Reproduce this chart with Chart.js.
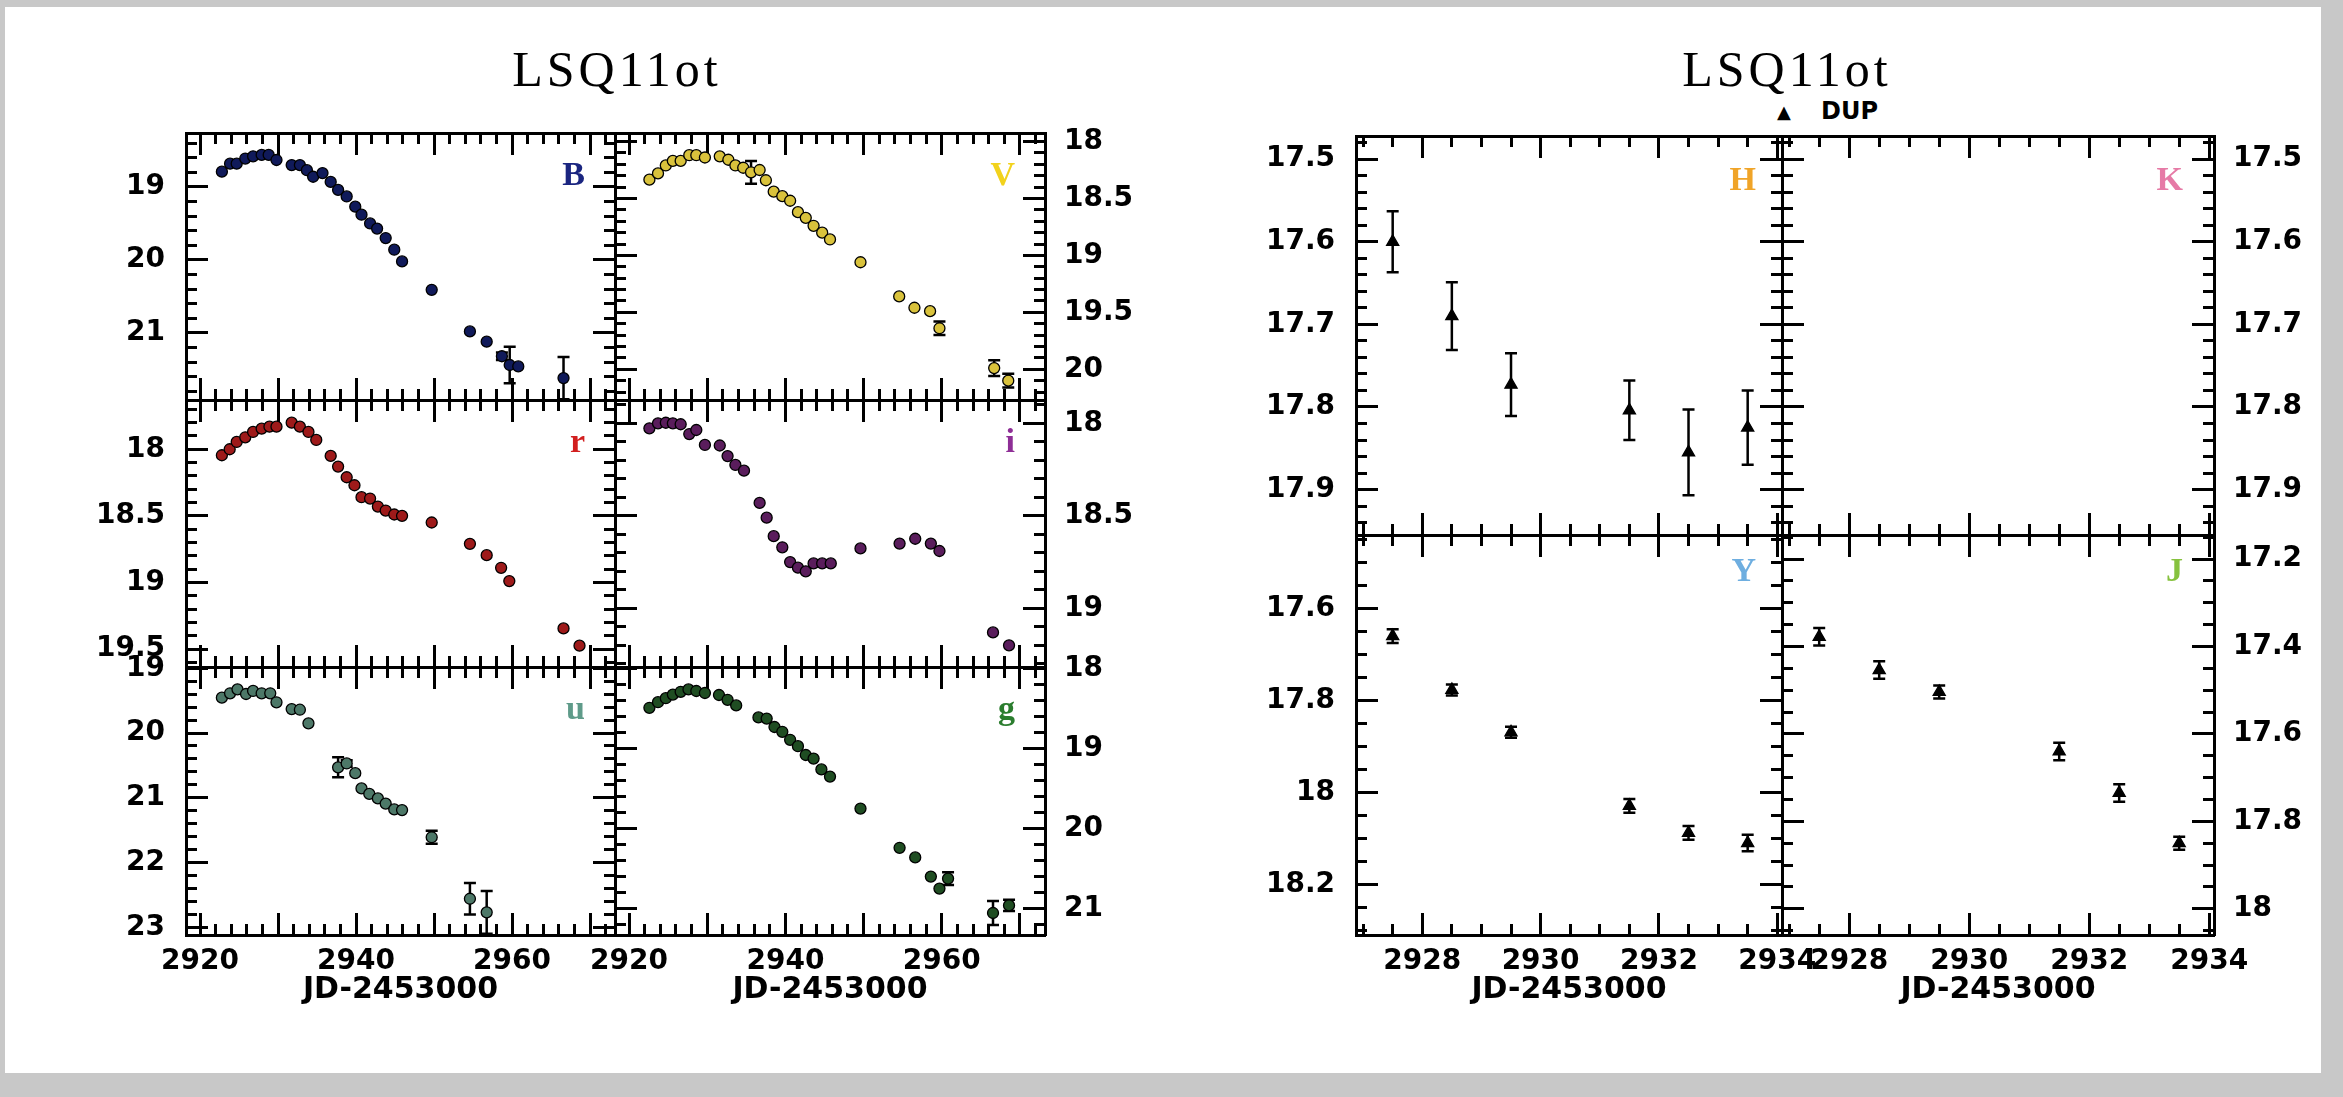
<!DOCTYPE html>
<html>
<head>
<meta charset="utf-8">
<title>LSQ11ot light curves</title>
<script src="https://cdn.jsdelivr.net/npm/chart.js"></script>
<style>
  html, body { margin: 0; padding: 0; background: #c8c8c8; width: 2343px; height: 1097px; overflow: hidden; }
  #page { position: absolute; left: 5px; top: 7px; width: 2316px; height: 1066px; background: #fff; }
  canvas { position: absolute; }
  .title { position: absolute; top: 44px; font: 50px/50px "Liberation Serif", serif; letter-spacing: 4px; transform: translateX(-50%); white-space: nowrap; color: #000; }
  .dup { position: absolute; font: bold 24px/24px "DejaVu Sans", sans-serif; color: #000; }
  .tri { position: absolute; font: 18px/18px "DejaVu Sans", sans-serif; color: #000; }
</style>
</head>
<body>
<div id="page"></div>
<div class="title" style="left:617px">LSQ11ot</div>
<div class="title" style="left:1787px">LSQ11ot</div>
<div class="tri" style="left:1777px; top:103px">▲</div>
<div class="dup" style="left:1821px; top:99px">DUP</div>
<script>
// ---- optical light curves (JD-2453000, mag) ----
const B_DAY = [2922.8, 2923.85, 2924.7, 2925.8, 2926.8, 2927.9, 2928.8, 2929.8, 2931.75, 2932.8, 2933.7, 2934.5, 2935.7, 2936.75, 2937.7, 2938.8, 2939.9, 2940.7, 2941.8, 2942.7, 2943.8, 2944.9, 2945.9, 2949.7, 2954.6, 2956.75, 2958.7, 2959.7, 2960.8, 2966.6];
const B_MAG = [18.79, 18.68, 18.68, 18.61, 18.58, 18.56, 18.56, 18.63, 18.70, 18.70, 18.77, 18.86, 18.81, 18.93, 19.04, 19.13, 19.27, 19.38, 19.50, 19.57, 19.70, 19.86, 20.02, 20.41, 20.98, 21.12, 21.32, 21.44, 21.46, 21.62];
const B_ERR = [0, 0, 0, 0, 0, 0, 0, 0, 0, 0, 0, 0, 0, 0, 0, 0, 0, 0, 0, 0, 0, 0, 0, 0, 0, 0, 0.05, 0.25, 0, 0.29];

const V_DAY = [2922.6, 2923.7, 2924.7, 2925.6, 2926.6, 2927.7, 2928.6, 2929.7, 2931.6, 2932.7, 2933.6, 2934.6, 2935.6, 2936.7, 2937.5, 2938.5, 2939.6, 2940.6, 2941.6, 2942.6, 2943.6, 2944.7, 2945.7, 2949.6, 2954.55, 2956.5, 2958.5, 2959.7, 2966.7, 2968.5];
const V_MAG = [18.335, 18.28, 18.21, 18.17, 18.17, 18.12, 18.12, 18.14, 18.13, 18.16, 18.21, 18.23, 18.27, 18.25, 18.34, 18.44, 18.48, 18.52, 18.62, 18.67, 18.74, 18.80, 18.86, 19.06, 19.36, 19.46, 19.49, 19.64, 19.99, 20.10];
const V_ERR = [0, 0, 0, 0, 0, 0, 0, 0, 0, 0, 0, 0, 0.1, 0, 0, 0, 0, 0, 0, 0, 0, 0, 0, 0, 0, 0, 0, 0.06, 0.07, 0.06];

const R_DAY = [2922.8, 2923.8, 2924.7, 2925.8, 2926.8, 2927.9, 2928.9, 2929.8, 2931.75, 2932.8, 2933.9, 2934.9, 2936.75, 2937.7, 2938.8, 2939.8, 2940.7, 2941.8, 2942.8, 2943.8, 2944.9, 2945.9, 2949.7, 2954.6, 2956.75, 2958.6, 2959.65, 2966.6, 2968.65];
const R_MAG = [18.045, 18.0, 17.945, 17.91, 17.87, 17.845, 17.83, 17.83, 17.80, 17.83, 17.87, 17.93, 18.05, 18.13, 18.21, 18.27, 18.36, 18.37, 18.43, 18.46, 18.49, 18.50, 18.55, 18.71, 18.795, 18.89, 18.99, 19.345, 19.475];

const I_DAY = [2922.6, 2923.7, 2924.7, 2925.6, 2926.6, 2927.7, 2928.6, 2929.7, 2931.6, 2932.6, 2933.6, 2934.7, 2936.7, 2937.6, 2938.5, 2939.6, 2940.6, 2941.6, 2942.6, 2943.6, 2944.7, 2945.8, 2949.6, 2954.6, 2956.6, 2958.6, 2959.7, 2966.55, 2968.6];
const I_MAG = [18.027, 18.0, 17.997, 18.0, 18.005, 18.058, 18.036, 18.117, 18.12, 18.177, 18.225, 18.256, 18.43, 18.51, 18.61, 18.67, 18.75, 18.78, 18.80, 18.757, 18.757, 18.757, 18.676, 18.65, 18.624, 18.65, 18.69, 19.13, 19.20];

const U_DAY = [2922.8, 2923.85, 2924.8, 2925.9, 2926.8, 2927.9, 2929.0, 2929.8, 2931.75, 2932.8, 2933.9, 2937.7, 2938.8, 2939.9, 2940.7, 2941.7, 2942.8, 2943.8, 2944.9, 2945.9, 2949.7, 2954.6, 2956.75];
const U_MAG = [19.454, 19.386, 19.325, 19.397, 19.35, 19.386, 19.386, 19.525, 19.63, 19.64, 19.85, 20.53, 20.47, 20.62, 20.855, 20.94, 21.01, 21.09, 21.18, 21.19, 21.61, 22.56, 22.77];
const U_ERR = [0, 0, 0, 0, 0, 0, 0, 0, 0, 0, 0, 0.155, 0.05, 0, 0, 0, 0, 0, 0, 0, 0.1, 0.245, 0.33];

const G_DAY = [2922.6, 2923.7, 2924.7, 2925.6, 2926.6, 2927.6, 2928.6, 2929.7, 2931.5, 2932.6, 2933.7, 2936.55, 2937.6, 2938.6, 2939.6, 2940.6, 2941.6, 2942.6, 2943.6, 2944.6, 2945.7, 2949.6, 2954.6, 2956.6, 2958.6, 2959.7, 2960.8, 2966.55, 2968.6];
const G_MAG = [18.49, 18.42, 18.37, 18.325, 18.29, 18.26, 18.28, 18.305, 18.33, 18.39, 18.46, 18.61, 18.625, 18.73, 18.79, 18.89, 18.97, 19.08, 19.125, 19.26, 19.35, 19.75, 20.24, 20.36, 20.60, 20.75, 20.625, 21.055, 20.96];
const G_ERR = [0, 0, 0, 0, 0, 0, 0, 0, 0, 0, 0, 0, 0, 0, 0, 0, 0, 0, 0, 0, 0, 0, 0, 0, 0, 0, 0.08, 0.15, 0.07];

// ---- near-IR (DUP) ----
const NIR_DAY = [2927.5, 2928.5, 2929.5, 2931.5, 2932.5, 2933.5];
const H_MAG = [17.60, 17.69, 17.773, 17.804, 17.855, 17.825];
const H_ERR = [0.037, 0.041, 0.038, 0.036, 0.052, 0.045];
const Y_MAG = [17.66, 17.777, 17.869, 18.029, 18.088, 18.11];
const Y_ERR = [0.015, 0.012, 0.012, 0.015, 0.015, 0.018];
const J_MAG = [17.378, 17.454, 17.504, 17.64, 17.735, 17.85];
const J_ERR = [0.02, 0.02, 0.015, 0.02, 0.02, 0.015];

// ---- tick labels ----
const OPT_X_TICKS = [2920, 2930, 2940, 2950, 2960, 2970];
const OPT_X_LABELS = [2920, 2940, 2960];
const NIR_X_TICKS = [2928, 2930, 2932, 2934];
const B_TICKS = [19, 20, 21];
const V_TICKS = [18, 18.5, 19, 19.5, 20];
const R_TICKS = [18, 18.5, 19, 19.5];
const I_TICKS = [18, 18.5, 19];
const U_TICKS = [19, 20, 21, 22, 23];
const G_TICKS = [18, 19, 20, 21];
const HK_TICKS = [17.5, 17.6, 17.7, 17.8, 17.9];
const Y_TICKS = [17.6, 17.8, 18, 18.2];
const J_TICKS = [17.2, 17.4, 17.6, 17.8, 18];

const FONT = '"DejaVu Sans", sans-serif';
const TICK_MAJ = 22, TICK_MIN = 11;
// canvas margins around each box (labels live there); top must exceed label padding
const PAD = { l: 100, r: 110, t: 80, b: 90 };
const CAP = 6;

function minorTicks(min, max, step) {
  const out = [];
  for (let k = Math.ceil(min / step - 1e-9); k * step <= max + 1e-9; k++) out.push(+(k * step).toFixed(6));
  return out;
}

// error bars drawn through the chart's own scales
const errorBars = {
  id: 'errorBars',
  beforeDatasetsDraw(chart) {
    const { ctx, chartArea, scales } = chart;
    ctx.save();
    ctx.beginPath();
    ctx.rect(chartArea.left, chartArea.top, chartArea.width, chartArea.height);
    ctx.clip();
    ctx.strokeStyle = '#000';
    ctx.lineWidth = 2.5;
    chart.data.datasets.forEach(ds => {
      if (!ds.errors) return;
      ds.data.forEach((p, i) => {
        const e = ds.errors[i];
        if (!e) return;
        const x = scales.x.getPixelForValue(p.x);
        const y1 = scales.y.getPixelForValue(p.y - e);
        const y2 = scales.y.getPixelForValue(p.y + e);
        ctx.beginPath();
        ctx.moveTo(x, y1); ctx.lineTo(x, y2);
        ctx.moveTo(x - CAP, y1); ctx.lineTo(x + CAP, y1);
        ctx.moveTo(x - CAP, y2); ctx.lineTo(x + CAP, y2);
        ctx.stroke();
      });
    });
    ctx.restore();
  }
};

// filter name in the upper right corner of each box
const bandLabel = {
  id: 'bandLabel',
  afterDraw(chart, args, opts) {
    if (!opts.text) return;
    const { ctx, chartArea } = chart;
    ctx.save();
    ctx.font = 'bold 34px "Liberation Serif", serif';
    ctx.fillStyle = opts.color;
    ctx.textAlign = 'right';
    ctx.textBaseline = 'alphabetic';
    ctx.fillText(opts.text, chartArea.right - opts.dx, chartArea.top + opts.dy);
    ctx.restore();
  }
};

Chart.register(errorBars, bandLabel);

function axis(pos, major, min, max, values, labels, size, extra) {
  const horiz = pos === 'top' || pos === 'bottom';
  const pad = { bottom: 32, left: 43, right: 41, top: 0 }[pos];
  return Object.assign({
    type: 'linear',
    axis: horiz ? 'x' : 'y',
    position: pos,
    weight: major ? 1 : 0,
    min, max,
    reverse: !horiz,
    afterBuildTicks: s => { s.ticks = values.map(v => ({ value: v })); },
    afterFit: s => { if (horiz) s.height = size; else s.width = size; },
    grid: { display: true, drawOnChartArea: false, drawTicks: true, tickLength: -(major ? TICK_MAJ : TICK_MIN), tickWidth: 3, tickColor: '#000' },
    border: { display: true, color: '#000', width: 3 },
    ticks: {
      display: !!labels,
      autoSkip: false, maxRotation: 0, minRotation: 0,
      color: '#000',
      font: { family: FONT, size: 28, weight: 'bold' },
      padding: pad,
      callback: v => (labels && labels.includes(v)) ? String(v) : ''
    }
  }, extra || {});
}

function panel(o) {
  const W = o.right - o.left, H = o.bottom - o.top;
  const c = document.createElement('canvas');
  c.width = W + PAD.l + PAD.r;
  c.height = H + PAD.t + PAD.b;
  c.style.left = (o.left - PAD.l) + 'px';
  c.style.top = (o.top - PAD.t) + 'px';
  document.body.appendChild(c);

  const xMinor = minorTicks(o.xMin, o.xMax, o.xStep);
  const yMinor = minorTicks(o.yMin, o.yMax, o.yStep);
  const xTitle = o.xTitle ? { title: { display: true, text: 'JD-2453000', color: '#000', font: { family: FONT, size: 30, weight: 'bold' }, padding: { top: 0, bottom: 17 } } } : null;

  const datasets = o.series ? [{
    data: o.series.day.map((d, i) => ({ x: d, y: o.series.mag[i] })),
    errors: o.series.err,
    backgroundColor: o.series.color,
    borderColor: '#000',
    borderWidth: 1.3,
    pointStyle: o.series.style || 'circle',
    pointRadius: o.series.radius || 5.5,
    showLine: false,
    xAxisID: 'x', yAxisID: 'y'
  }] : [];

  new Chart(c, {
    type: 'scatter',
    data: { datasets },
    options: {
      responsive: false,
      animation: false,
      devicePixelRatio: 1,
      layout: { padding: 0 },
      events: [],
      plugins: {
        legend: { display: false },
        tooltip: { enabled: false },
        bandLabel: { text: o.band, color: o.bandColor, dx: o.dx || 30, dy: o.dy || 52 }
      },
      scales: {
        xm: axis('bottom', false, o.xMin, o.xMax, xMinor, null, 0),
        x: axis('bottom', true, o.xMin, o.xMax, o.xTicks, o.xLabels, PAD.b, xTitle),
        xtm: axis('top', false, o.xMin, o.xMax, xMinor, null, 0),
        xt: axis('top', true, o.xMin, o.xMax, o.xTicks, null, PAD.t),
        ym: axis('left', false, o.yMin, o.yMax, yMinor, null, 0),
        y: axis('left', true, o.yMin, o.yMax, o.yTicks, o.ySide === 'left' ? o.yTicks : null, PAD.l),
        yrm: axis('right', false, o.yMin, o.yMax, yMinor, null, 0),
        yr: axis('right', true, o.yMin, o.yMax, o.yTicks, o.ySide === 'right' ? o.yTicks : null, PAD.r)
      }
    }
  });
}

// ---- optical grid ----
const OX = [186, 615, 1045];
const OY = [133, 400, 667, 935];
const opt = { xMin: 2918.2, xMax: 2973.2, xStep: 2, xTicks: OPT_X_TICKS };

panel(Object.assign({}, opt, { left: OX[0], right: OX[1], top: OY[0], bottom: OY[1], yMin: 18.26, yMax: 21.92, yStep: 0.2, yTicks: B_TICKS, ySide: 'left',
  band: 'B', bandColor: '#1a2580', series: { day: B_DAY, mag: B_MAG, err: B_ERR, color: '#101a5a' } }));
panel(Object.assign({}, opt, { left: OX[1], right: OX[2], top: OY[0], bottom: OY[1], yMin: 17.925, yMax: 20.27, yStep: 0.1, yTicks: V_TICKS, ySide: 'right',
  band: 'V', bandColor: '#f2d21c', series: { day: V_DAY, mag: V_MAG, err: V_ERR, color: '#d9c23c' } }));
panel(Object.assign({}, opt, { left: OX[0], right: OX[1], top: OY[1], bottom: OY[2], yMin: 17.63, yMax: 19.635, yStep: 0.1, yTicks: R_TICKS, ySide: 'left',
  band: 'r', bandColor: '#d21f1f', series: { day: R_DAY, mag: R_MAG, color: '#9e1a1a' } }));
panel(Object.assign({}, opt, { left: OX[1], right: OX[2], top: OY[1], bottom: OY[2], yMin: 17.874, yMax: 19.317, yStep: 0.1, yTicks: I_TICKS, ySide: 'right',
  band: 'i', bandColor: '#8e2e96', series: { day: I_DAY, mag: I_MAG, color: '#5a1d5c' } }));
panel(Object.assign({}, opt, { left: OX[0], right: OX[1], top: OY[2], bottom: OY[3], yMin: 18.98, yMax: 23.12, yStep: 0.2, yTicks: U_TICKS, ySide: 'left',
  xLabels: OPT_X_LABELS, xTitle: true,
  band: 'u', bandColor: '#5f9b8a', series: { day: U_DAY, mag: U_MAG, err: U_ERR, color: '#4d7868' } }));
panel(Object.assign({}, opt, { left: OX[1], right: OX[2], top: OY[2], bottom: OY[3], yMin: 17.98, yMax: 21.33, yStep: 0.2, yTicks: G_TICKS, ySide: 'right',
  xLabels: OPT_X_LABELS, xTitle: true,
  band: 'g', bandColor: '#2b7d2e', series: { day: G_DAY, mag: G_MAG, err: G_ERR, color: '#1f4d22' } }));

// ---- near-IR grid ----
const NX = [1356, 1782, 2214];
const NY = [136, 535, 935];
const nir = { xMin: 2926.88, xMax: 2934.08, xStep: 0.5, xTicks: NIR_X_TICKS };

panel(Object.assign({}, nir, { left: NX[0], right: NX[1], top: NY[0], bottom: NY[1], yMin: 17.472, yMax: 17.955, yStep: 0.02, yTicks: HK_TICKS, ySide: 'left',
  band: 'H', bandColor: '#f0a428', dx: 26, dy: 54,
  series: { day: NIR_DAY, mag: H_MAG, err: H_ERR, color: '#000', style: 'triangle', radius: 7 } }));
panel(Object.assign({}, nir, { left: NX[1], right: NX[2], top: NY[0], bottom: NY[1], yMin: 17.472, yMax: 17.955, yStep: 0.02, yTicks: HK_TICKS, ySide: 'right',
  band: 'K', bandColor: '#e67aa6', dx: 31, dy: 54 }));
panel(Object.assign({}, nir, { left: NX[0], right: NX[1], top: NY[1], bottom: NY[2], yMin: 17.44, yMax: 18.31, yStep: 0.05, yTicks: Y_TICKS, ySide: 'left',
  xLabels: NIR_X_TICKS, xTitle: true,
  band: 'Y', bandColor: '#6eaee0', dx: 26, dy: 46,
  series: { day: NIR_DAY, mag: Y_MAG, err: Y_ERR, color: '#000', style: 'triangle', radius: 7 } }));
panel(Object.assign({}, nir, { left: NX[1], right: NX[2], top: NY[1], bottom: NY[2], yMin: 17.145, yMax: 18.06, yStep: 0.05, yTicks: J_TICKS, ySide: 'right',
  xLabels: NIR_X_TICKS, xTitle: true,
  band: 'J', bandColor: '#86c23e', dx: 31, dy: 46,
  series: { day: NIR_DAY, mag: J_MAG, err: J_ERR, color: '#000', style: 'triangle', radius: 7 } }));
</script>
</body>
</html>
